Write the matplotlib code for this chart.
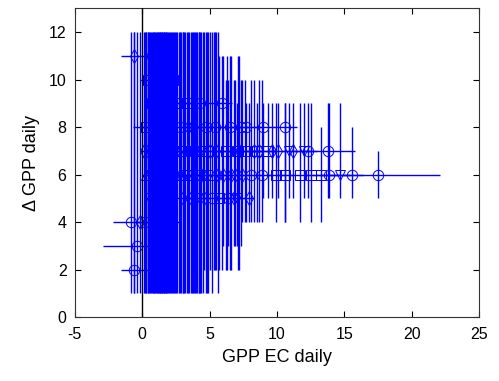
import matplotlib
matplotlib.use('Agg')
import matplotlib.pyplot as plt

plt.rcParams['font.family'] = ['Liberation Sans', 'DejaVu Sans']
plt.rcParams['axes.unicode_minus'] = False

# daily GPP from eddy covariance vs. difference in GPP, with error ranges
gpp_ec = [-0.8, -0.6, -0.4, -0.6, -0.2, 0.2, 0.4, 0.6, 0.8, 0.9,
          1.1, 1.2, 1.3, 1.4, 1.5, 1.6, 1.7, 1.8, 2.0, 2.2,
          2.3, 2.4, 2.6, 2.8, 3.0, 3.1, 3.3, 3.5, 3.7, 3.9,
          4.1, 4.3, 4.5, 4.7, 4.9, 5.2, 5.4, 5.6, 5.9, 6.3,
          6.5, 6.6, 6.8, 7.1, 7.3, 7.4, 7.6, 7.7, 8.1, 8.3,
          8.7, 8.9, 9.0, 9.3, 9.9, 10.1, 10.6, 10.6, 10.9, 11.7,
          12.0, 12.3, 13.3, 13.8, 13.9, 14.7, 15.6, 17.5,
          0.15, 0.3, 0.5, 0.7, 0.85, 1.0, 1.15, 1.35, 1.45, 1.55,
          1.65, 1.75, 1.9, 2.1, 2.5, 2.7, 2.9, 3.2, 3.4, 3.6,
          3.8, 4.0, 4.2, 4.4, 4.6, 4.8, 5.0, 5.3, 5.5, 5.7,
          6.0, 6.2, 6.4, 6.9, 7.0, 7.2, 7.9, 8.5, 9.6, 11.2, 12.5,
          0.25, 0.45, 0.65, 0.95, 1.25, 1.85, 2.05, 2.35, 3.05, 3.85, 4.25]
dgpp = [4, 2, 3, 11, 4, 4, 10, 11, 8, 9,
        7, 4, 6, 10, 3, 5, 8, 9, 7, 4,
        10, 6, 9, 8, 5, 7, 9, 6, 8, 7,
        5, 9, 6, 8, 7, 5, 8, 6, 9, 7,
        8, 6, 5, 7, 8, 6, 7, 8, 6, 7,
        7, 6, 8, 7, 6, 7, 8, 6, 7, 6,
        7, 7, 6, 7, 6, 6, 6, 6,
        7, 6, 5, 9, 6, 5, 8, 9, 7, 6,
        4, 7, 6, 5, 7, 6, 7, 6, 8, 5,
        6, 7, 6, 7, 5, 6, 7, 6, 7, 5,
        6, 7, 5, 6, 5, 7, 5, 7, 7, 7, 6,
        8, 7, 6, 5, 7, 8, 6, 7, 6, 8, 7]
gpp_err = [1.4, 1.0, 2.5, 1.0, 0.5, 0.5, 0.6, 0.5, 1.5, 0.6,
           0.8, 0.6, 0.7, 0.5, 0.6, 0.8, 0.6, 0.7, 0.8, 0.6,
           0.6, 0.7, 0.8, 0.9, 0.8, 0.6, 0.7, 0.9, 0.8, 0.8,
           0.7, 0.9, 0.7, 0.8, 0.9, 0.8, 0.8, 0.9, 0.8, 0.8,
           0.9, 0.7, 0.8, 0.8, 0.8, 0.6, 0.7, 1.1, 0.7, 0.7,
           0.7, 0.7, 0.8, 0.6, 0.7, 0.7, 0.9, 0.7, 0.6, 0.7,
           0.7, 0.7, 0.7, 2.0, 0.7, 0.7, 0.8, 4.6,
           0.3, 0.3, 0.3, 0.3, 0.3, 0.3, 0.3, 0.3, 0.3, 0.3,
           0.3, 0.3, 0.3, 0.3, 0.4, 0.4, 0.4, 0.4, 0.4, 0.4,
           0.4, 0.4, 0.4, 0.4, 0.4, 0.4, 0.4, 0.4, 0.4, 0.4,
           0.4, 0.4, 0.4, 0.4, 0.4, 0.4, 0.4, 0.4, 0.4, 0.4, 0.5,
           0.3, 0.3, 0.3, 0.3, 0.3, 0.3, 0.3, 0.3, 0.3, 0.3, 0.3]
dgpp_lo = [1, 1, 1, 1, 1, 1, 1, 1, 1, 1,
           1, 1, 1, 1, 1, 1, 1, 1, 1, 1,
           1, 1, 1, 1, 1, 1, 1, 1, 1, 1,
           1, 1, 1, 1, 1, 1, 2, 1, 2, 2,
           2, 2, 3, 2, 3, 4, 4, 4, 4, 4,
           4, 4, 5, 5, 4, 5, 4, 4, 5, 4,
           5, 5, 4, 5, 5, 5, 5, 5,
           1, 1, 1, 1, 1, 1, 1, 1, 1, 1,
           1, 1, 1, 1, 1, 1, 1, 1, 1, 1,
           1, 1, 1, 1, 2, 1, 2, 2, 2, 2,
           3, 2, 3, 3, 3, 2, 4, 4, 5, 5, 4,
           1, 1, 1, 1, 1, 1, 1, 1, 1, 1, 1]
dgpp_hi = [12, 12, 12, 12, 12, 12, 12, 12, 12, 12,
           12, 12, 12, 12, 12, 12, 12, 12, 12, 12,
           12, 12, 12, 12, 12, 12, 12, 12, 12, 12,
           12, 12, 12, 12, 12, 12, 12, 12, 11, 11,
           11, 11, 10, 11, 10, 10, 10, 9, 10, 10,
           10, 10, 9, 9, 9, 9, 9, 9, 9, 9,
           9, 9, 8, 9, 9, 9, 8, 7,
           12, 12, 12, 12, 12, 12, 12, 12, 12, 12,
           12, 12, 12, 12, 12, 12, 12, 12, 12, 12,
           12, 12, 12, 12, 12, 12, 12, 12, 12, 11,
           11, 10, 10, 10, 9, 11, 9, 9, 9, 9, 9,
           12, 12, 12, 12, 12, 12, 12, 12, 12, 12, 12]
markers = ['o', 'o', 'o', 'd', 'd', 'o', 's', 'd', 's', 's',
           'd', 'o', '^', 'd', 'o', 'v', 's', 'o', 's', 'd',
           's', 'd', 's', 'o', 'd', 'v', 's', 's', 'd', 's',
           'v', 'o', 'd', 'o', 's', 'o', 'o', 'd', 'o', 's',
           'o', 'd', 'd', 's', 'o', 'd', 's', 'o', 'o', 'd',
           'd', 'o', 'o', 's', 's', 'd', 'o', 's', 'v', 's',
           'v', 'o', 's', 'o', 'o', 'v', 'o', 'o',
           'd', '^', 'v', 's', 'd', '^', 'd', 's', 'v', 'd',
           'o', '^', 'd', 'v', 'd', '^', 's', 'v', 'd', 'd',
           '^', 'd', 's', 'v', 'd', 's', 'd', '^', 'd', 's',
           'd', 's', 'o', 'd', 'v', 'd', 'd', 's', 'd', 'd', 's',
           's', 'd', 'v', '^', 'd', 's', 'd', 'v', '^', 'd', 's']

fig = plt.figure(figsize=(4.99, 3.81), dpi=100)
ax = fig.add_axes([0.150, 0.168, 0.810, 0.810])

ax.axvline(0, color='black', lw=1.0, zorder=3)

for x, y, xe, lo, hi, m in zip(gpp_ec, dgpp, gpp_err, dgpp_lo, dgpp_hi, markers):
    ax.errorbar([x], [y], xerr=[[xe], [xe]], yerr=[[y - lo], [hi - y]],
                fmt=m, color='#0000ff', mfc='none', mec='#0000ff', ms=7.5,
                mew=0.7, elinewidth=1.0, capsize=0, zorder=2)

ax.set_xlim(-5, 25)
ax.set_ylim(0, 13)
ax.set_xticks(range(-5, 26, 5))
ax.set_yticks(range(0, 13, 2))
ax.tick_params(direction='in', top=True, right=True, length=4, width=0.8,
               labelsize=11.5, colors='black')
ax.tick_params(axis='y', pad=6)
ax.tick_params(axis='x', pad=7)
for s in ax.spines.values():
    s.set_color('#333333')
    s.set_linewidth(0.8)

ax.set_xlabel('GPP EC daily', fontsize=13, labelpad=5)
ax.set_ylabel('\u0394 GPP daily', fontsize=13, labelpad=6)

fig.savefig('out.png', dpi=100)
